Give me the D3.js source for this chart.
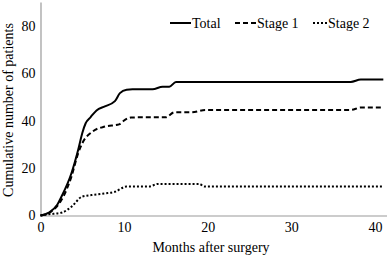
<!DOCTYPE html>
<html lang="en">
<head>
    <meta charset="UTF-8">
    <title>Cumulative patients</title>
    <script src="https://d3js.org/d3.v7.min.js"></script>
    <style>
        body { margin: 0; background: white; }
        svg text { font-family: "Liberation Serif", "DejaVu Serif", serif; font-size: 14px; fill: #000; }
        .axis path { stroke: #9a9a9a; stroke-width: 1.2px; }
    </style>
</head>
<body>
<svg id="canvas" width="387" height="258"></svg>
<script>
    // values (months after surgery, cumulative count)
    const seriesNames = ["Total", "Stage 1", "Stage 2"];
    const totalMonths = [0, 1, 2, 2.5, 3.7, 4.5, 5, 5.4, 6, 6.7, 7.7, 8.9, 9.5, 10.3, 11, 12, 13.4, 14.6, 15.4, 16.2, 20, 30, 37.1, 38.3, 41];
    const totalValues = [0, 1.2, 4.5, 7.9, 17.8, 27.6, 34.8, 38.9, 41.5, 44.3, 46, 48.2, 51.6, 53, 53.2, 53.2, 53.2, 54.3, 54.3, 56.3, 56.3, 56.3, 56.3, 57.3, 57.3];
    const stage1Months = [0, 1, 2, 2.5, 3.7, 4.5, 5, 6.2, 7.7, 9.4, 10.1, 10.8, 12, 15, 16, 18, 19.8, 30, 37.1, 38.3, 41];
    const stage1Values = [0, 1, 4, 6.5, 16.4, 26.2, 30.5, 35.3, 37.5, 38.4, 40.3, 41.3, 41.4, 41.4, 43.5, 43.5, 44.5, 44.5, 44.5, 45.5, 45.5];
    const stage2Months = [0, 1, 2.6, 3.7, 5, 6.1, 7.7, 8.9, 10.3, 12, 13, 14, 19, 19.6, 30, 41];
    const stage2Values = [0, 0.5, 1.3, 3.7, 8, 8.6, 9.3, 10, 12.2, 12.2, 12.2, 13.3, 13.3, 12.2, 12.2, 12.2];
    const xTicks = [0, 10, 20, 30, 40];
    const yTicks = [0, 20, 40, 60, 80];

    const serif = "'Liberation Serif', 'DejaVu Serif', serif";
    const svg = d3.select("#canvas");

    const x = d3.scaleLinear().domain([0, 41.5]).range([40.5, 387.5]);
    const y = d3.scaleLinear().domain([0, 90]).range([215.5, 2]);

    // axes: plain grey lines, no tick marks
    svg.append("g")
        .attr("class", "axis")
        .attr("transform", "translate(0,215.5)")
        .call(d3.axisBottom(x).tickValues(xTicks).tickSize(0).tickPadding(7).tickSizeOuter(0));

    svg.append("g")
        .attr("class", "axis")
        .attr("transform", "translate(40.5,0)")
        .call(d3.axisLeft(y).tickValues(yTicks).tickSize(0).tickPadding(5).tickSizeOuter(0));

    svg.selectAll(".axis")
        .attr("font-family", serif)
        .attr("font-size", 14);
    svg.selectAll(".axis text")
        .style("font-family", serif)
        .style("font-size", "14px");

    // axis titles
    svg.append("text")
        .attr("x", 211).attr("y", 252)
        .attr("text-anchor", "middle")
        .text("Months after surgery");

    svg.append("text")
        .attr("transform", "translate(13,110) rotate(-90)")
        .attr("text-anchor", "middle")
        .text("Cumulative number of patients");

    const series = [
        {name: seriesNames[0], months: totalMonths, values: totalValues, dash: null},
        {name: seriesNames[1], months: stage1Months, values: stage1Values, dash: "5,3"},
        {name: seriesNames[2], months: stage2Months, values: stage2Values, dash: "2,2"}
    ];

    const line = d3.line()
        .x(d => x(d[0]))
        .y(d => y(d[1]))
        .curve(d3.curveMonotoneX);

    svg.append("g").selectAll("path")
        .data(series)
        .enter()
        .append("path")
        .attr("d", s => line(s.months.map((m, i) => [m, s.values[i]])))
        .attr("fill", "none")
        .attr("stroke", "#000")
        .attr("stroke-width", 2)
        .attr("stroke-dasharray", s => s.dash);

    // legend
    const legendX = [170, 235, 313];
    const legendLen = [21, 21, 14];
    const legend = svg.append("g").selectAll("g")
        .data(series)
        .enter()
        .append("g")
        .attr("transform", (s, i) => "translate(" + legendX[i] + ",23)");

    legend.append("line")
        .attr("x1", 0).attr("x2", (s, i) => legendLen[i])
        .attr("stroke", "#000")
        .attr("stroke-width", 2)
        .attr("stroke-dasharray", s => s.dash);

    legend.append("text")
        .attr("x", (s, i) => legendLen[i] + 1)
        .attr("y", 5)
        .text(s => s.name);
</script>
</body>
</html>
